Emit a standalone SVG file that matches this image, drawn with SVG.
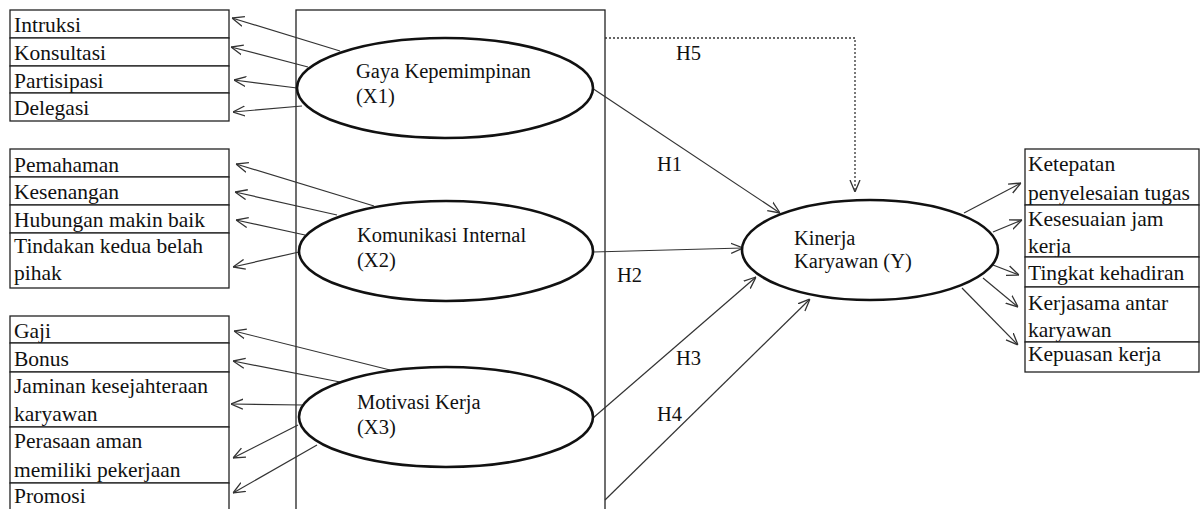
<svg xmlns="http://www.w3.org/2000/svg" width="1201" height="509" viewBox="0 0 1201 509">
<style>
.bx{fill:#fff;stroke:#222;stroke-width:1.3}
.el{fill:#fff;stroke:#111;stroke-width:2.6}
.t{font-family:"Liberation Serif","Times New Roman",serif;font-size:21.5px;fill:#111}
.te{font-family:"Liberation Serif","Times New Roman",serif;font-size:20.5px;fill:#111}
.c{fill:none;stroke:#333;stroke-width:1.2;marker-end:url(#ah)}
.d{fill:none;stroke:#333;stroke-width:1.3;stroke-dasharray:2 2;marker-end:url(#ah)}
</style>
<defs>
<marker id="ah" viewBox="0 0 12 12" refX="12" refY="6" markerWidth="12" markerHeight="12" markerUnits="userSpaceOnUse" orient="auto">
<path d="M0,1 L12,6 L0,11" fill="none" stroke="#333" stroke-width="1.3"/>
</marker>
</defs>
<rect width="1201" height="509" fill="#fff"/>
<g id="frame"><rect class="bx" x="296" y="10" width="309" height="520"/></g>

<g id="ind-x1">
<rect class="bx" x="10" y="10" width="219" height="28"/><text class="t" x="14" y="32">Intruksi</text>
<rect class="bx" x="10" y="38" width="219" height="28"/><text class="t" x="14" y="60">Konsultasi</text>
<rect class="bx" x="10" y="66" width="219" height="27"/><text class="t" x="14" y="88">Partisipasi</text>
<rect class="bx" x="10" y="93" width="219" height="28"/><text class="t" x="14" y="115">Delegasi</text>
</g>
<g id="ind-x2">
<rect class="bx" x="10" y="149" width="219" height="28"/><text class="t" x="14" y="172">Pemahaman</text>
<rect class="bx" x="10" y="177" width="219" height="28"/><text class="t" x="14" y="199">Kesenangan</text>
<rect class="bx" x="10" y="205" width="219" height="28"/><text class="t" x="14" y="227">Hubungan makin baik</text>
<rect class="bx" x="10" y="233" width="219" height="55"/><text class="t" x="14" y="253">Tindakan kedua belah</text><text class="t" x="14" y="280">pihak</text>
</g>
<g id="ind-x3">
<rect class="bx" x="10" y="316" width="219" height="27"/><text class="t" x="14" y="338">Gaji</text>
<rect class="bx" x="10" y="343" width="219" height="29"/><text class="t" x="14" y="366">Bonus</text>
<rect class="bx" x="10" y="372" width="219" height="55"/><text class="t" x="14" y="393">Jaminan kesejahteraan</text><text class="t" x="14" y="421">karyawan</text>
<rect class="bx" x="10" y="427" width="219" height="56"/><text class="t" x="14" y="448">Perasaan aman</text><text class="t" x="14" y="477">memiliki pekerjaan</text>
<rect class="bx" x="10" y="483" width="219" height="32"/><text class="t" x="14" y="503">Promosi</text>
</g>
<g id="ind-y">
<rect class="bx" x="1025" y="149" width="174" height="56"/><text class="t" x="1028" y="171">Ketepatan</text><text class="t" x="1028" y="200">penyelesaian tugas</text>
<rect class="bx" x="1025" y="205" width="174" height="52"/><text class="t" x="1028" y="226">Kesesuaian jam</text><text class="t" x="1028" y="253">kerja</text>
<rect class="bx" x="1025" y="257" width="174" height="30"/><text class="t" x="1028" y="280">Tingkat kehadiran</text>
<rect class="bx" x="1025" y="287" width="174" height="55"/><text class="t" x="1028" y="310">Kerjasama antar</text><text class="t" x="1028" y="337">karyawan</text>
<rect class="bx" x="1025" y="342" width="174" height="30"/><text class="t" x="1028" y="361">Kepuasan kerja</text>
</g>

<g id="connectors">
<line class="c" x1="340" y1="51" x2="232" y2="18"/>
<line class="c" x1="308" y1="67" x2="231" y2="47"/>
<line class="c" x1="297" y1="88" x2="234" y2="80"/>
<line class="c" x1="302" y1="106" x2="233" y2="112"/>
<line class="c" x1="374" y1="206" x2="236" y2="164"/>
<line class="c" x1="337" y1="215" x2="235" y2="192"/>
<line class="c" x1="305" y1="235" x2="236" y2="220"/>
<line class="c" x1="299" y1="252" x2="233" y2="267"/>
<line class="c" x1="390" y1="370" x2="234" y2="331"/>
<line class="c" x1="340" y1="382" x2="233" y2="361"/>
<line class="c" x1="303" y1="405" x2="231" y2="404"/>
<line class="c" x1="298" y1="425" x2="233" y2="458"/>
<line class="c" x1="317" y1="445" x2="233" y2="493"/>
<line class="c" x1="592" y1="88" x2="780" y2="213"/>
<line class="c" x1="593" y1="252" x2="743" y2="248"/>
<line class="c" x1="593" y1="418" x2="756" y2="277"/>
<line class="c" x1="605" y1="500" x2="810" y2="299"/>
<polyline class="d" points="605,38 855,38 855,192"/>
<line class="c" x1="964" y1="213" x2="1021" y2="183"/>
<line class="c" x1="993" y1="232" x2="1022" y2="220"/>
<line class="c" x1="993" y1="265" x2="1019" y2="275"/>
<line class="c" x1="983" y1="278" x2="1018" y2="307"/>
<line class="c" x1="962" y1="288" x2="1018" y2="345"/>
<text class="te" x="676" y="60">H5</text>
<text class="te" x="657" y="171">H1</text>
<text class="te" x="617" y="282">H2</text>
<text class="te" x="676" y="365">H3</text>
<text class="te" x="657" y="421">H4</text>
</g>

<g id="x1"><ellipse class="el" cx="445" cy="88" rx="148" ry="50"/><text class="te" x="356" y="78">Gaya Kepemimpinan</text><text class="te" x="356" y="103">(X1)</text></g>
<g id="x2"><ellipse class="el" cx="446" cy="251" rx="147" ry="50"/><text class="te" x="357" y="242">Komunikasi Internal</text><text class="te" x="357" y="267">(X2)</text></g>
<g id="x3"><ellipse class="el" cx="446" cy="417" rx="147" ry="50"/><text class="te" x="357" y="409">Motivasi Kerja</text><text class="te" x="357" y="434">(X3)</text></g>
<g id="y"><ellipse class="el" cx="870" cy="250" rx="128" ry="50"/><text class="te" x="794" y="245">Kinerja</text><text class="te" x="794" y="268">Karyawan (Y)</text></g>
</svg>
